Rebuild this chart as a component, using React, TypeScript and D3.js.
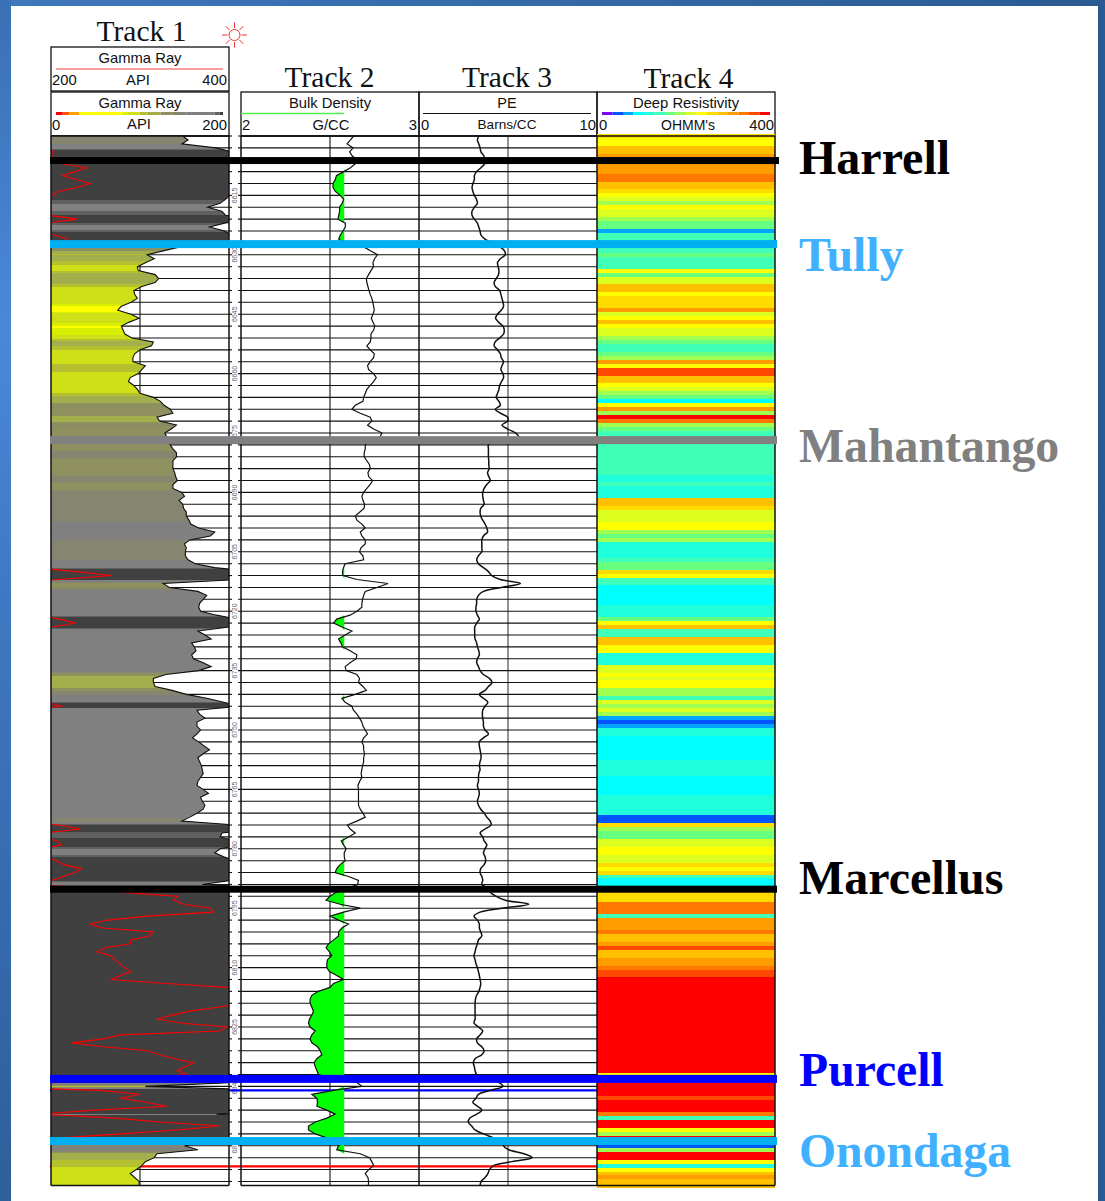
import * as d3 from 'd3';

// log samples, one reading per foot from 6600 ft (rows are 15 ft)
const GR_API = [
  148, 154, 147, 185, 203, 200, 205, 212, 241, 227, 213, 228, 244, 229, 208,
  201, 196, 190, 176, 192, 196, 230, 195, 178, 195, 203, 219, 215, 145, 126,
  108, 116, 106, 97, 98, 117, 121, 117, 102, 93, 94, 97, 90, 79, 75,
  90, 99, 88, 79, 81, 83, 91, 115, 113, 100, 94, 92, 92, 106, 102,
  98, 89, 87, 93, 97, 100, 115, 123, 127, 134, 137, 119, 122, 141, 135,
  128, 130, 131, 134, 137, 141, 141, 137, 137, 137, 139, 140, 142, 137, 137,
  147, 150, 144, 148, 149, 152, 152, 155, 157, 166, 184, 179, 156, 150, 152,
  151, 151, 154, 162, 184, 228, 268, 210, 126, 133, 165, 175, 171, 167, 166,
  168, 186, 210, 228, 200, 165, 173, 180, 158, 161, 163, 158, 160, 171, 180,
  166, 129, 115, 115, 117, 136, 152, 175, 194, 213, 164, 167, 173, 164, 164,
  168, 164, 159, 166, 172, 178, 171, 165, 167, 169, 170, 171, 168, 165, 164,
  171, 177, 168, 170, 173, 171, 164, 156, 147, 209, 233, 192, 190, 207, 212,
  190, 184, 194, 206, 214, 234, 227, 214, 201, 170, 260, 281, 342, 338, 349,
  379, 382, 308, 264, 244, 258, 315, 310, 290, 289, 261, 252, 267, 272, 277,
  283, 290, 278, 267, 330, 397, 420, 450, 450, 420, 387, 356, 336, 319, 345,
  397, 390, 278, 259, 223, 259, 308, 322, 339, 360, 352, 342, 352, 300, 210,
  106, 256, 300, 278, 307, 330, 249, 186, 273, 322, 390, 341, 278, 210, 175,
  150, 165, 119, 116, 106, 102, 96, 89, 94, 99, 99,
];

const RHOB = [
  2.633, 2.615, 2.596, 2.63, 2.61, 2.624, 2.652, 2.643, 2.615, 2.577, 2.536, 2.53, 2.517, 2.517, 2.53,
  2.558, 2.577, 2.568, 2.554, 2.554, 2.549, 2.545, 2.586, 2.586, 2.573, 2.558, 2.549, 2.577, 2.69, 2.727,
  2.767, 2.75, 2.741, 2.745, 2.73, 2.717, 2.704, 2.707, 2.713, 2.719, 2.726, 2.735, 2.741, 2.745, 2.749,
  2.741, 2.732, 2.741, 2.752, 2.745, 2.73, 2.73, 2.726, 2.707, 2.726, 2.749, 2.745, 2.726, 2.711, 2.717,
  2.745, 2.76, 2.745, 2.726, 2.707, 2.698, 2.689, 2.685, 2.642, 2.623, 2.67, 2.726, 2.735, 2.711, 2.745,
  2.792, 2.78, 2.726, 2.698, 2.698, 2.692, 2.692, 2.707, 2.722, 2.726, 2.713, 2.717, 2.739, 2.726, 2.707,
  2.689, 2.679, 2.685, 2.694, 2.692, 2.666, 2.642, 2.651, 2.679, 2.698, 2.67, 2.679, 2.698, 2.698, 2.674,
  2.666, 2.685, 2.689, 2.585, 2.576, 2.57, 2.572, 2.651, 2.826, 2.764, 2.698, 2.689, 2.683, 2.679, 2.679,
  2.651, 2.613, 2.538, 2.52, 2.567, 2.623, 2.585, 2.548, 2.561, 2.57, 2.613, 2.651, 2.647, 2.613, 2.585,
  2.591, 2.651, 2.666, 2.66, 2.685, 2.704, 2.642, 2.567, 2.585, 2.623, 2.632, 2.651, 2.666, 2.679, 2.685,
  2.698, 2.711, 2.689, 2.679, 2.689, 2.689, 2.694, 2.689, 2.689, 2.683, 2.679, 2.675, 2.679, 2.666, 2.657,
  2.66, 2.66, 2.66, 2.66, 2.66, 2.67, 2.685, 2.698, 2.651, 2.598, 2.613, 2.642, 2.604, 2.563, 2.576,
  2.591, 2.58, 2.58, 2.585, 2.557, 2.538, 2.529, 2.604, 2.66, 2.655, 2.595, 2.535, 2.5, 2.478, 2.557,
  2.67, 2.576, 2.5, 2.548, 2.604, 2.567, 2.548, 2.548, 2.52, 2.492, 2.478, 2.497, 2.51, 2.486, 2.482,
  2.482, 2.497, 2.538, 2.576, 2.52, 2.5, 2.435, 2.398, 2.388, 2.388, 2.398, 2.407, 2.398, 2.385, 2.379,
  2.388, 2.417, 2.398, 2.388, 2.398, 2.43, 2.445, 2.454, 2.426, 2.411, 2.417, 2.426, 2.435, 2.52, 2.651,
  2.679, 2.52, 2.398, 2.426, 2.43, 2.426, 2.482, 2.529, 2.482, 2.417, 2.379, 2.379, 2.417, 2.482, 2.576,
  2.548, 2.538, 2.67, 2.722, 2.735, 2.745, 2.717, 2.698, 2.713, 2.717, 2.715,
];

const PE = [
  3.36, 3.28, 3.36, 3.43, 3.48, 3.64, 3.69, 3.69, 3.48, 3.23, 3.11, 3.11, 3.03, 2.98, 3.03,
  3.11, 3.23, 3.28, 3.11, 2.98, 2.98, 3.11, 3.28, 3.36, 3.43, 3.48, 3.69, 4.12, 4.55, 4.8,
  4.85, 4.57, 4.41, 4.45, 4.49, 4.47, 4.34, 4.22, 4.28, 4.53, 4.6, 4.66, 4.72, 4.75, 4.62,
  4.41, 4.3, 4.47, 4.72, 4.79, 4.75, 4.53, 4.28, 4.22, 4.41, 4.57, 4.62, 4.75, 4.66, 4.6,
  4.72, 4.75, 4.64, 4.53, 4.49, 4.41, 4.34, 4.49, 4.57, 4.28, 4.57, 4.98, 4.98, 4.66, 4.98,
  5.42, 5.6, 4.38, 3.9, 3.9, 3.9, 3.9, 3.92, 3.92, 3.94, 3.85, 3.92, 4.0, 3.81, 3.66,
  3.58, 3.58, 3.62, 3.66, 3.47, 3.43, 3.47, 3.58, 3.71, 3.81, 3.85, 3.62, 3.53, 3.53, 3.53,
  3.53, 3.34, 3.24, 3.34, 3.62, 3.9, 4.09, 4.57, 5.7, 4.62, 3.62, 3.34, 3.24, 3.24, 3.2,
  3.2, 3.28, 3.39, 3.24, 3.13, 3.13, 3.13, 3.15, 3.24, 3.28, 3.36, 3.39, 3.28, 3.24, 3.34,
  3.43, 3.62, 3.96, 4.11, 3.9, 3.71, 3.39, 3.62, 3.87, 3.71, 3.58, 3.56, 3.58, 3.62, 3.62,
  3.71, 3.9, 3.62, 3.39, 3.39, 3.43, 3.47, 3.49, 3.43, 3.39, 3.43, 3.36, 3.34, 3.34, 3.28,
  3.34, 3.39, 3.34, 3.28, 3.34, 3.47, 3.66, 3.81, 4.0, 4.05, 3.71, 3.43, 3.58, 3.66, 3.81,
  3.71, 3.62, 3.71, 3.75, 3.66, 3.47, 3.43, 3.53, 3.58, 3.53, 3.9, 4.0, 4.34, 4.85, 6.17,
  4.66, 3.43, 3.09, 3.28, 3.39, 3.39, 3.47, 3.53, 3.34, 3.28, 3.2, 3.15, 3.09, 3.15, 3.2,
  3.28, 3.34, 3.39, 3.43, 3.47, 3.43, 3.36, 3.24, 3.17, 3.15, 3.15, 3.15, 3.15, 3.15, 3.09,
  3.34, 3.58, 3.43, 3.24, 3.28, 3.53, 3.66, 3.53, 3.15, 3.05, 3.11, 3.15, 3.24, 3.81, 4.47,
  4.72, 4.0, 3.34, 3.2, 3.02, 3.28, 3.53, 3.24, 2.86, 2.77, 2.96, 3.15, 3.62, 4.19, 4.75,
  4.75, 5.04, 5.89, 6.36, 5.23, 4.19, 3.96, 3.87, 3.71, 3.49, 3.43,
];

const DEEP_RES = [
  260, 240, 240, 290, 290, 310, 310, 310, 310, 310, 340, 340, 290, 290, 260,
  240, 210, 190, 240, 210, 210, 190, 160, 160, 60, 140, 140, 110, 140, 140,
  160, 140, 140, 140, 240, 160, 210, 210, 290, 290, 240, 260, 260, 260, 310,
  210, 240, 290, 240, 210, 210, 190, 160, 140, 140, 160, 190, 310, 240, 360,
  360, 290, 290, 240, 210, 190, 160, 90, 240, 310, 190, 390, 340, 190, 160,
  140, 140, 140, 140, 140, 140, 140, 140, 140, 140, 140, 110, 110, 140, 110,
  110, 110, 290, 290, 260, 210, 210, 210, 240, 240, 190, 160, 190, 110, 110,
  110, 110, 140, 160, 160, 260, 240, 140, 140, 90, 90, 90, 90, 90, 110,
  110, 110, 160, 240, 290, 140, 140, 290, 290, 240, 240, 110, 110, 110, 210,
  210, 240, 210, 240, 240, 190, 190, 140, 210, 190, 210, 190, 60, 40, 60,
  110, 110, 90, 90, 90, 90, 90, 90, 110, 110, 110, 110, 90, 90, 90,
  90, 90, 110, 110, 110, 110, 110, 40, 40, 260, 190, 160, 160, 210, 210,
  240, 240, 210, 210, 260, 240, 260, 140, 90, 90, 90, 260, 260, 260, 340,
  340, 340, 140, 310, 310, 310, 340, 290, 290, 310, 360, 290, 290, 310, 310,
  340, 360, 360, 390, 390, 390, 390, 390, 390, 390, 390, 390, 390, 390, 390,
  390, 390, 390, 390, 390, 390, 390, 390, 390, 390, 390, 390, 240, 390, 390,
  390, 390, 390, 360, 390, 390, 390, 340, 140, 390, 390, 240, 190, 390, 390,
  40, 190, 390, 390, 240, 110, 240, 290, 310, 290, 290,
];

const DEPTHS = GR_API.map((_, i) => 6600 + i);
const GRID_DEPTHS = d3.range(6600, 6866, 3);
const DEPTH_LABELS = d3.range(6615, 6860, 15);

const FORMATIONS = ['Harrell', 'Tully', 'Mahantango', 'Marcellus', 'Purcell', 'Onondaga'];
const FORMATION_TOPS = [6606.2, 6627.3, 6676.8, 6790.2, 6838.1, 6853.8];

// thin marker lines, they sit behind the track 1 fill
const MARKER_DEPTHS = [6841, 6860.2];
const MARKER_COLORS = ['#0000ff', '#ff0000'];

// colour ramps
const GR_STOPS = [8, 16, 28, 80, 86, 100, 110, 125, 140, 156, 190, 196];
const GR_COLORS = [
  '#ff0000', '#ff5000', '#ffa000', '#ffff00', '#d8f000', '#cfe018', '#b5c030',
  '#a3ae4c', '#8f9060', '#858570', '#808080', '#606060', '#404040',
];
const RES_COLORS = [
  '#8000ff', '#0055ff', '#00a5ff', '#00ffff', '#20ffdc', '#40ffb8', '#66ff80', '#a0ff50',
  '#dcff20', '#ffff00', '#ffdc00', '#ffc000', '#ff9c00', '#ff7800', '#ff4800', '#ff0000',
];

const RHOB_CUTOFF = 2.58;

const width = 1105;
const height = 1201;
const top = 136;
const bottom = 1185.4;
const tracks = { t1: [51, 229], t2: [241, 419], t3: [419, 597], t4: [597, 775] };
const sans = '"Liberation Sans", Arial, sans-serif';
const serif = '"Liberation Serif", "Times New Roman", serif';

const y = d3.scaleLinear().domain([6600, 6865]).range([top, bottom]);
const grX = d3.scaleLinear().domain([0, 200]).range(tracks.t1);
const grHighX = d3.scaleLinear().domain([200, 400]).range(tracks.t1);
const rhobX = d3.scaleLinear().domain([2, 3]).range(tracks.t2);
const peX = d3.scaleLinear().domain([0, 10]).range(tracks.t3);
const resColor = d3.scaleQuantize<string>().domain([0, 400]).range(RES_COLORS);
const grColor = d3.scaleThreshold<number, string>().domain(GR_STOPS).range(GR_COLORS);
const grAt = d3.scaleLinear().domain(DEPTHS).range(GR_API);

// one sliver per pixel row, so the colour follows the curve
const FILL_ROWS = d3.range(6600, 6865.4, 0.25);

const grBlackLine = d3.line<number>().x(v => grX(v)).y((_, i) => y(DEPTHS[i]));
const grRedLine = d3.line<number>().x(v => grHighX(v)).y((_, i) => y(DEPTHS[i]));
const grArea = d3.area<number>().x0(grX(0)).x1(v => grX(v)).y((_, i) => y(DEPTHS[i]));
const rhobLine = d3.line<number>().x(v => rhobX(v)).y((_, i) => y(DEPTHS[i]));
const rhobArea = d3.area<number>()
  .x0(v => Math.min(rhobX(v), rhobX(RHOB_CUTOFF)))
  .x1(rhobX(RHOB_CUTOFF))
  .y((_, i) => y(DEPTHS[i]));
const peLine = d3.line<number>().x(v => peX(v)).y((_, i) => y(DEPTHS[i])).curve(d3.curveCatmullRom);

// where each formation label sits relative to its line
const formationStyle = [
  { color: '#000000', size: 48, dy: 13.5, h: 7, x2: 779 },
  { color: '#40b0ff', size: 47.8, dy: 26.5, h: 8, x2: 777 },
  { color: '#808080', size: 47.8, dy: 22, h: 8, x2: 777 },
  { color: '#000000', size: 48, dy: 5, h: 7, x2: 777 },
  { color: '#0000ff', size: 47.7, dy: 7, h: 8, x2: 777 },
  { color: '#40b0ff', size: 47.7, dy: 26, h: 8, x2: 777 },
];
const lineColors = ['#000000', '#00b0f0', '#808080', '#000000', '#0000ff', '#00b0f0'];

function HeaderText({ x, y, size = 14.8, anchor = 'middle', children }: any) {
  return (
    <text x={x} y={y} fontFamily={sans} fontSize={size} textAnchor={anchor} fill="#111">
      {children}
    </text>
  );
}

function Header() {
  const grBar = d3.scaleLinear().domain([0, 200]).range([56, 223]);
  const grEdges = [0, ...GR_STOPS, 200];
  const resBar = d3.scaleLinear().domain([0, 400]).range([602, 770]);
  return (
    <g>
      <g fontFamily={serif} fontSize={29.5} fill="#111" textAnchor="middle">
        <text x={141.5} y={41}>Track 1</text>
        <text x={329.5} y={87}>Track 2</text>
        <text x={507} y={87}>Track 3</text>
        <text x={688.5} y={88}>Track 4</text>
      </g>

      <g stroke="#111" fill="none" strokeWidth={1.3}>
        <rect x={51} y={47} width={178} height={44} />
        <rect x={51} y={92} width={178} height={44} />
        <rect x={241} y={92} width={178} height={44} />
        <rect x={419} y={92} width={178} height={44} />
        <rect x={597} y={92} width={178} height={44} />
      </g>

      <HeaderText x={140} y={63}>Gamma Ray</HeaderText>
      <line x1={56} x2={223} y1={69} y2={69} stroke="#f04040" strokeWidth={1} />
      <HeaderText x={52} y={85} anchor="start">200</HeaderText>
      <HeaderText x={138} y={85}>API</HeaderText>
      <HeaderText x={227} y={85} anchor="end">400</HeaderText>

      <HeaderText x={140} y={108}>Gamma Ray</HeaderText>
      {GR_COLORS.map((c, i) => (
        <rect key={c} x={grBar(grEdges[i])} y={112} width={grBar(grEdges[i + 1]) - grBar(grEdges[i])} height={3} fill={c} />
      ))}
      <HeaderText x={52} y={130} anchor="start">0</HeaderText>
      <HeaderText x={139} y={129}>API</HeaderText>
      <HeaderText x={227} y={130} anchor="end">200</HeaderText>

      <HeaderText x={330} y={108}>Bulk Density</HeaderText>
      <line x1={241} x2={344} y1={113.5} y2={113.5} stroke="#50f050" strokeWidth={1.3} />
      <HeaderText x={242} y={130} anchor="start">2</HeaderText>
      <HeaderText x={331} y={130}>G/CC</HeaderText>
      <HeaderText x={417} y={130} anchor="end">3</HeaderText>

      <HeaderText x={507} y={108} size={14.5}>PE</HeaderText>
      <line x1={423} x2={591} y1={113.5} y2={113.5} stroke="#111" strokeWidth={1.2} />
      <HeaderText x={421} y={130} anchor="start">0</HeaderText>
      <HeaderText x={507} y={129} size={13.6}>Barns/CC</HeaderText>
      <HeaderText x={596} y={130} anchor="end">10</HeaderText>

      <HeaderText x={686} y={108}>Deep Resistivity</HeaderText>
      {RES_COLORS.map((c, i) => (
        <rect key={c} x={resBar(i * 25)} y={112} width={resBar(25) - resBar(0)} height={3} fill={c} />
      ))}
      <HeaderText x={599} y={130} anchor="start">0</HeaderText>
      <HeaderText x={688} y={130} size={14}>OHMM's</HeaderText>
      <HeaderText x={774} y={130} anchor="end">400</HeaderText>

      <g transform="translate(234.5,35)" stroke="#f03030" strokeWidth={1} fill="none">
        <circle r={5.5} />
        {d3.range(8).map(i => {
          const a = (i * Math.PI) / 4;
          return <line key={i} x1={7 * Math.cos(a)} y1={7 * Math.sin(a)} x2={12.5 * Math.cos(a)} y2={12.5 * Math.sin(a)} />;
        })}
      </g>
    </g>
  );
}

export default function App() {
  const [t1a, t1b] = tracks.t1;
  return (
    <svg width={width} height={height} style={{ position: 'absolute', left: 0, top: 0, display: 'block' }}>
      <defs>
        <linearGradient id="bgTop" x1="0" x2="1" y1="0" y2="0">
          <stop offset="0" stopColor="#3f78bc" />
          <stop offset="1" stopColor="#2b5a92" />
        </linearGradient>
        <linearGradient id="bgLeft" x1="0" x2="0" y1="0" y2="1">
          <stop offset="0" stopColor="#3a70b4" />
          <stop offset="0.27" stopColor="#4a88d8" />
          <stop offset="0.5" stopColor="#3f78c2" />
          <stop offset="0.82" stopColor="#3367a8" />
          <stop offset="1" stopColor="#2f5f9a" />
        </linearGradient>
        <clipPath id="clipT1"><rect x={t1a} y={top} width={t1b - t1a} height={bottom - top} /></clipPath>
        <clipPath id="clipGr"><path d={grArea(GR_API) ?? ''} /></clipPath>
      </defs>

      <rect width={width} height={height} fill="url(#bgTop)" />
      <rect width={11} height={height} fill="url(#bgLeft)" />
      <rect x={11} y={6} width={1087} height={height - 6} fill="#fff" />

      <Header />

      {/* grid */}
      <g stroke="#111" strokeWidth={1.1}>
        {GRID_DEPTHS.map(d => (
          <g key={d}>
            <line x1={t1a} x2={t1b} y1={y(d)} y2={y(d)} />
            <line x1={t1b} x2={232} y1={y(d)} y2={y(d)} />
            <line x1={238} x2={tracks.t3[1]} y1={y(d)} y2={y(d)} />
          </g>
        ))}
        <line x1={grX(100)} x2={grX(100)} y1={top} y2={bottom} />
        <line x1={rhobX(2.5)} x2={rhobX(2.5)} y1={top} y2={bottom} />
        <line x1={peX(5)} x2={peX(5)} y1={top} y2={bottom} strokeWidth={0.9} />
      </g>
      {DEPTH_LABELS.map(d => (
        <text
          key={d}
          transform={`translate(237,${y(d)}) rotate(-90)`}
          fontFamily={sans}
          fontSize={7}
          fill="#666"
          textAnchor="middle"
        >
          {d}
        </text>
      ))}

      {MARKER_DEPTHS.map((d, i) => (
        <line key={d} x1={50} x2={tracks.t3[1]} y1={y(d)} y2={y(d)} stroke={MARKER_COLORS[i]} strokeWidth={2.4} />
      ))}

      {/* track 1 */}
      <g clipPath="url(#clipT1)">
        <g clipPath="url(#clipGr)" shapeRendering="crispEdges">
          {FILL_ROWS.map(d => (
            <rect key={d} x={t1a} y={Math.floor(y(d))} width={t1b - t1a} height={2} fill={grColor(grAt(d))} />
          ))}
        </g>
        <path d={grBlackLine(GR_API) ?? ''} fill="none" stroke="#111" strokeWidth={1.1} />
        <path d={grRedLine(GR_API) ?? ''} fill="none" stroke="#ff0000" strokeWidth={1.1} />
      </g>

      {/* track 2 */}
      <path d={rhobArea(RHOB) ?? ''} fill="#00ff00" />
      <path d={rhobLine(RHOB) ?? ''} fill="none" stroke="#111" strokeWidth={1.2} />

      {/* track 3 */}
      <path d={peLine(PE) ?? ''} fill="none" stroke="#111" strokeWidth={1.5} />

      {/* track 4 */}
      <g shapeRendering="crispEdges">
        {DEEP_RES.map((v, i) => (
          <rect
            key={i}
            x={tracks.t4[0]}
            y={Math.round(y(DEPTHS[i]) - 2)}
            width={tracks.t4[1] - tracks.t4[0]}
            height={5}
            fill={resColor(v)}
          />
        ))}
      </g>

      {/* borders */}
      <g stroke="#111" strokeWidth={1.5}>
        {[t1a, t1b, tracks.t2[0], tracks.t2[1], tracks.t3[1], tracks.t4[1]].map(x => (
          <line key={x} x1={x} x2={x} y1={top} y2={bottom} />
        ))}
        <line x1={t1a} x2={t1b} y1={bottom} y2={bottom} />
        <line x1={tracks.t2[0]} x2={tracks.t4[1]} y1={bottom} y2={bottom} />
        <line x1={t1a} x2={t1b} y1={top} y2={top} />
        <line x1={tracks.t2[0]} x2={tracks.t4[1]} y1={top} y2={top} />
      </g>

      {/* formation tops */}
      {FORMATIONS.map((name, i) => {
        const s = formationStyle[i];
        const fy = y(FORMATION_TOPS[i]);
        return (
          <g key={name}>
            <rect x={50} y={fy - s.h / 2} width={s.x2 - 50} height={s.h} fill={lineColors[i]} />
            <text x={799} y={fy + s.dy} fontFamily={serif} fontWeight="bold" fontSize={s.size} fill={s.color}>
              {name}
            </text>
          </g>
        );
      })}
    </svg>
  );
}
